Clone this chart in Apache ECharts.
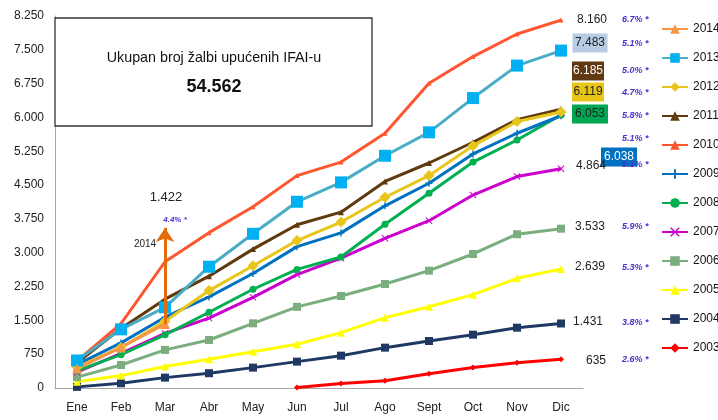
<!DOCTYPE html>
<html><head><meta charset="utf-8">
<script src="https://cdn.jsdelivr.net/npm/echarts@6/dist/echarts.min.js"></script>
<style>html,body{margin:0;padding:0;background:#fff}#c{width:718px;height:420px}</style>
</head><body><div id="c"></div>
<script>
const months = ['Ene','Feb','Mar','Abr','May','Jun','Jul','Ago','Sept','Oct','Nov','Dic'];
const yTicks = [0,750,1500,2250,3000,3750,4500,5250,6000,6750,7500,8250];
const years = ['2014','2013','2012','2011','2010','2009','2008','2007','2006','2005','2004','2003'];
const v2014 = [430, 900, 1422, null, null, null, null, null, null, null, null, null];
const v2013 = [610, 1300, 1790, 2690, 3420, 4130, 4560, 5150, 5670, 6430, 7150, 7483];
const v2012 = [460, 900, 1480, 2160, 2710, 3270, 3680, 4230, 4710, 5370, 5910, 6119];
const v2011 = [560, 1320, 1970, 2480, 3080, 3620, 3900, 4580, 4990, 5450, 5950, 6185];
const v2010 = [600, 1430, 2800, 3445, 4020, 4710, 5010, 5650, 6760, 7350, 7850, 8160];
const v2009 = [520, 1000, 1570, 2020, 2540, 3135, 3440, 4040, 4540, 5190, 5650, 6038];
const v2008 = [380, 740, 1180, 1680, 2190, 2630, 2905, 3630, 4320, 5010, 5500, 6053];
const v2007 = [350, 770, 1210, 1550, 2010, 2515, 2880, 3320, 3710, 4280, 4690, 4864];
const v2006 = [240, 510, 845, 1065, 1435, 1800, 2040, 2307, 2602, 2972, 3410, 3533];
const v2005 = [140, 275, 475, 636, 805, 970, 1227, 1560, 1803, 2070, 2433, 2639];
const v2004 = [25, 105, 230, 328, 452, 585, 717, 895, 1042, 1183, 1338, 1431];
const v2003 = [null, null, null, null, null, 10, 100, 160, 315, 455, 560, 635];
const endValues = ['8.160','7.483','6.185','6.119','6.053','6.038','4.864','3.533','2.639','1.431','635'];
const growth = ['6.7% *','5.1% *','5.0% *','4.7% *','5.8% *','5.1% *','5.1% *','5.9% *','5.3% *','3.8% *','2.6% *'];
const boxTitle = 'Ukupan broj žalbi upućenih IFAI-u';
const boxTotal = '54.562';
const arrowFrom = 1422, arrowTo = 3550;
const arrowTexts = ['1.422','4.4% *','2014'];

const plusPath = 'path://M4,0H6V4H10V6H6V10H4V6H0V4H4Z';
const xPath = 'path://M1,0L5,4L9,0L10,1L6,5L10,9L9,10L5,6L1,10L0,9L4,5L0,1Z';

const styles = {
  '2014': {data: v2014, color:'#F79646', symbol:'triangle', size:10},
  '2013': {data: v2013, color:'#4BACC6', mcolor:'#00B0F0', symbol:'rect', size:12},
  '2012': {data: v2012, color:'#E8C51A', symbol:'diamond', size:11},
  '2011': {data: v2011, color:'#5E3A0E', symbol:'triangle', size:6},
  '2010': {data: v2010, color:'#FF5630', symbol:'triangle', size:5},
  '2009': {data: v2009, color:'#0070C0', symbol:plusPath, size:7},
  '2008': {data: v2008, color:'#00B050', symbol:'circle', size:7},
  '2007': {data: v2007, color:'#CC00CC', symbol:xPath, size:7},
  '2006': {data: v2006, color:'#7BAE7F', symbol:'rect', size:8},
  '2005': {data: v2005, color:'#FFFF00', symbol:'triangle', size:8},
  '2004': {data: v2004, color:'#1F3864', symbol:'rect', size:8},
  '2003': {data: v2003, color:'#FF0000', symbol:'diamond', size:6}
};

const drawOrder = years.slice().reverse();
const series = drawOrder.map(y => {
  const s = styles[y];
  const obj = {
    name: y, type:'line', data: s.data, symbol: s.symbol, symbolSize: s.size,
    showAllSymbol: true, connectNulls: false,
    lineStyle: {color: s.color, width: 3},
    itemStyle: {color: s.mcolor || s.color, borderWidth: 0},
    color: s.color,
    animation: false, z: 2
  };
  if (y === '2014') {
    obj.markLine = {
      silent: true, animation:false,
      symbol: ['none','arrow'], symbolSize: [14, 14],
      lineStyle: {color:'#E46C0A', width: 3, type:'solid'},
      label: {show:false},
      data: [[{coord:['Mar', arrowFrom]}, {coord:['Mar', arrowTo]}]]
    };
  }
  return obj;
});

const fmt = v => { const s = String(v); return s.length > 3 ? s.slice(0, s.length-3) + '.' + s.slice(s.length-3) : s; };

const txtFont = 'Liberation Sans, Arial, sans-serif';
const valPos = [
  {x:592, y:20, bg:null, fg:'#222'},
  {x:590, y:43, bg:'#B8CCE4', fg:'#222', w:35},
  {x:588, y:71, bg:'#603811', fg:'#fff', w:32},
  {x:588, y:92, bg:'#E8C51A', fg:'#222', w:32},
  {x:590, y:114, bg:'#00A651', fg:'#222', w:36},
  {x:619, y:157, bg:'#0070C0', fg:'#fff', w:36},
  {x:591, y:166, bg:null, fg:'#222'},
  {x:590, y:227, bg:null, fg:'#222'},
  {x:590, y:267, bg:null, fg:'#222'},
  {x:588, y:322, bg:null, fg:'#222'},
  {x:596, y:361, bg:null, fg:'#222'}
];
const pctPos = [20, 44, 71, 93, 116, 139, 165, 227, 268, 323, 360];

const graphics = [];
graphics.push({type:'rect', shape:{x:55, y:18, width:317, height:108}, style:{fill:'#fff', stroke:'#333', lineWidth:1.3}, z:10});
graphics.push({type:'text', x:214, y:58, style:{text:boxTitle, font:'14.3px '+txtFont, fill:'#111', textAlign:'center', textVerticalAlign:'middle'}, z:11});
graphics.push({type:'text', x:214, y:87, style:{text:boxTotal, font:'bold 18px '+txtFont, fill:'#111', textAlign:'center', textVerticalAlign:'middle'}, z:11});
endValues.forEach((t,i) => {
  const p = valPos[i];
  if (p.bg) graphics.push({type:'rect', shape:{x:p.x - p.w/2, y:p.y-9.5, width:p.w, height:19}, style:{fill:p.bg}, z:10});
  graphics.push({type:'text', x:p.x, y:p.y, style:{text:t, font:'12px '+txtFont, fill:p.fg, textAlign:'center', textVerticalAlign:'middle'}, z:11});
});
growth.forEach((t,i) => {
  graphics.push({type:'text', x:622, y:pctPos[i], style:{text:t, font:'italic bold 9px '+txtFont, fill:'#4A2FCF', textAlign:'left', textVerticalAlign:'middle'}, z:12});
});
graphics.push({type:'text', x:166, y:197, style:{text:arrowTexts[0], font:'13px '+txtFont, fill:'#222', textAlign:'center', textVerticalAlign:'middle'}, z:11});
graphics.push({type:'text', x:175, y:220, style:{text:arrowTexts[1], font:'italic bold 8px '+txtFont, fill:'#4A2FCF', textAlign:'center', textVerticalAlign:'middle'}, z:11});
graphics.push({type:'text', x:145, y:244, style:{text:arrowTexts[2], font:'10px '+txtFont, fill:'#222', textAlign:'center', textVerticalAlign:'middle'}, z:11});

const chart = echarts.init(document.getElementById('c'), null, {renderer:'canvas'});
chart.setOption({
  animation: false,
  backgroundColor: '#fff',
  grid: {left:55, right:135, top:16, bottom:32, containLabel:false},
  legend: {
    data: years, orient:'vertical', left: 661, top: 23, padding: 0,
    itemWidth: 26, itemHeight: 12, itemGap: 17,
    textStyle: {fontSize: 12, color:'#111', fontFamily: txtFont, overflow:'none'}
  },
  xAxis: {
    type:'category', data: months, boundaryGap: true,
    axisLine: {lineStyle:{color:'#A6A6A6', width:1}},
    axisTick: {show:false},
    axisLabel: {color:'#222', fontSize:12, fontFamily: txtFont, margin: 14}
  },
  yAxis: {
    type:'value', min: yTicks[0], max: yTicks[yTicks.length-1], interval: 750,
    axisLine: {show:true, lineStyle:{color:'#A6A6A6', width:1}},
    axisTick: {show:false},
    splitLine: {show:false},
    axisLabel: {color:'#222', fontSize:12, fontFamily: txtFont, margin: 11, formatter: fmt}
  },
  series: series,
  graphic: graphics
});
</script>
</body></html>
